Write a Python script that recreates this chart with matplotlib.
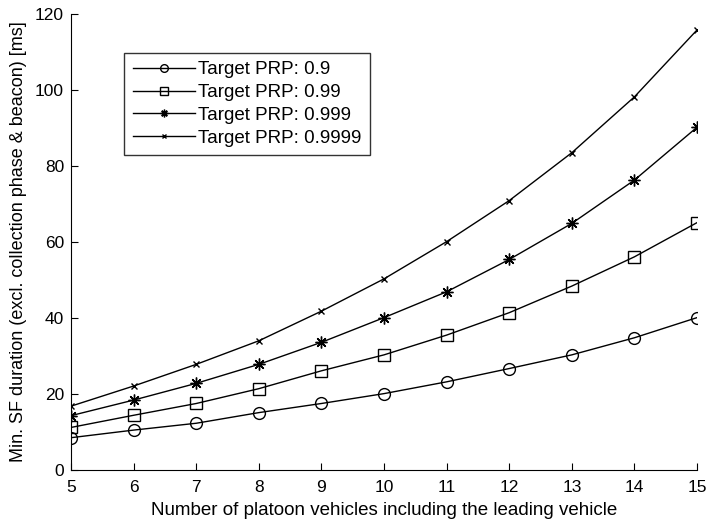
import matplotlib.pyplot as plt
import numpy as np

plt.rcParams['font.family'] = ['Liberation Sans', 'DejaVu Sans']

n = [5, 6, 7, 8, 9, 10, 11, 12, 13, 14, 15]
prp_09 = [8.5, 10.5, 12.3, 15.1, 17.5, 20.1, 23.2, 26.7, 30.3, 34.8, 40.1]
prp_099 = [11.2, 14.4, 17.5, 21.4, 26.1, 30.3, 35.5, 41.4, 48.4, 56.1, 65.1]
prp_0999 = [14.3, 18.4, 22.8, 27.8, 33.6, 40.1, 46.9, 55.4, 64.9, 76.3, 90.2]
prp_09999 = [16.8, 22.1, 27.8, 34.0, 41.8, 50.3, 60.1, 70.9, 83.5, 98.2, 115.8]
labels = ['Target PRP: 0.9', 'Target PRP: 0.99', 'Target PRP: 0.999', 'Target PRP: 0.9999']

fig = plt.figure(figsize=(7.08, 5.21), dpi=100)
ax = fig.add_axes([0.1003, 0.0979, 0.8842, 0.8752])

ax.plot(n, prp_09, 'k-', marker='o', ms=8.5, mfc='none', mew=1.0, lw=1.0, label=labels[0])
ax.plot(n, prp_099, 'k-', marker='s', ms=9, mfc='none', mew=1.0, lw=1.0, label=labels[1])
ax.plot(n, prp_0999, 'k-', marker=(8, 2, 0), ms=8.5, mew=1.0, lw=1.0, label=labels[2])
ax.plot(n, prp_09999, 'k-', marker='x', ms=5, mew=1.0, lw=1.0, label=labels[3])

ax.set_xlim(5, 15)
ax.set_ylim(0, 120)
ax.set_xticks(np.arange(5, 16))
ax.set_yticks(np.arange(0, 121, 20))
ax.spines['top'].set_visible(False)
ax.spines['right'].set_visible(False)
ax.tick_params(direction='in', length=5, labelsize=12.5, pad=5)
ax.tick_params(axis='x', pad=7)

ax.set_xlabel('Number of platoon vehicles including the leading vehicle', fontsize=13.5, labelpad=5)
ax.set_ylabel('Min. SF duration (excl. collection phase & beacon) [ms]', fontsize=13, labelpad=6)

leg = ax.legend(loc='upper left', bbox_to_anchor=(0.085, 0.915), fontsize=13.5,
                frameon=True, fancybox=False, edgecolor='k', handlelength=3.3,
                borderaxespad=0, borderpad=0.45, labelspacing=0.3, handletextpad=0.2,
                markerscale=0.65)
leg.get_frame().set_linewidth(1.0)

fig.savefig('out.png', dpi=100)
